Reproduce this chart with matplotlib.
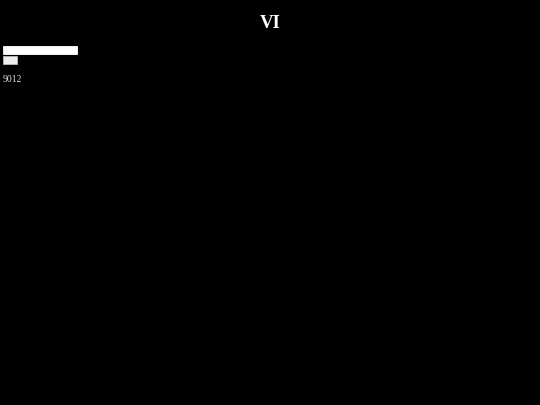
import matplotlib.pyplot as plt

# Data
labels = ['a', 'b']
values = [9012, 1700]
value_label = '9012'
title = 'VI'

fig = plt.figure(figsize=(5.4, 4.05), dpi=100, facecolor='black')

# small horizontal bar block in the top-left corner
ax = fig.add_axes([3 / 540, 1 - 65 / 405, 74.5 / 540, 20 / 405])
ax.set_facecolor('black')
ax.barh(range(len(labels)), values, height=0.85,
        color=['white', '#eeeeee'], edgecolor=['white', '#bbbbbb'], linewidth=0.6)
ax.set_xlim(0, max(values))
ax.set_ylim(1.5, -0.5)
ax.axis('off')

fig.text(3 / 540, 1 - 79 / 405, value_label, color='#dddddd', fontsize=7,
         family='Liberation Serif', ha='left', va='center')
fig.text(0.5, 1 - 23 / 405, title, color='white', fontsize=13.5, fontweight='bold',
         family='Liberation Serif', ha='center', va='center')

fig.savefig('out.png', dpi=100, facecolor='black')
